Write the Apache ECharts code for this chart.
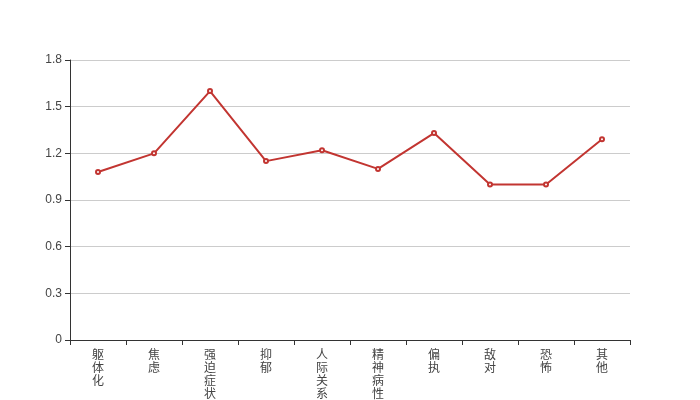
<!DOCTYPE html>
<html>
<head>
<meta charset="utf-8">
<script src="https://cdn.jsdelivr.net/npm/echarts@6/dist/echarts.min.js"></script>
<style>html,body{margin:0;padding:0;background:#fff;}#c{width:700px;height:400px;}</style>
</head>
<body>
<div id="c"></div>
<script>
var categories = ['躯体化', '焦虑', '强迫症状', '抑郁', '人际关系敏感', '精神病性', '偏执', '敌对', '恐怖', '其他'];
var values = [1.08, 1.20, 1.60, 1.15, 1.22, 1.10, 1.33, 1.00, 1.00, 1.29];
var yTicks = [0, 0.3, 0.6, 0.9, 1.2, 1.5, 1.8];

var chart = echarts.init(document.getElementById('c'), null, {renderer: 'canvas'});
chart.setOption({
  animation: false,
  grid: {left: 70, right: 70, top: 60, bottom: 60, containLabel: false, outerBoundsMode: 'none'},
  xAxis: {
    type: 'category',
    data: categories,
    boundaryGap: true,
    axisLine: {lineStyle: {color: '#333'}},
    axisTick: {show: true, alignWithLabel: false, lineStyle: {color: '#333'}},
    axisLabel: {
      interval: 0,
      color: '#444',
      fontSize: 12,
      lineHeight: 13,
      fontFamily: 'Noto Sans CJK SC',
      formatter: function (v) { return v.split('').join('\n'); }
    }
  },
  yAxis: {
    type: 'value',
    min: yTicks[0],
    max: yTicks[yTicks.length - 1],
    interval: 0.3,
    axisLine: {show: true, lineStyle: {color: '#333'}},
    axisTick: {show: true, lineStyle: {color: '#333'}},
    axisLabel: {color: '#444', fontSize: 12, fontFamily: 'sans-serif'},
    splitLine: {lineStyle: {color: '#ccc'}}
  },
  series: [{
    type: 'line',
    data: values,
    symbol: 'emptyCircle',
    symbolSize: 4,
    lineStyle: {color: '#c23531', width: 2},
    itemStyle: {color: '#c23531'}
  }]
});
</script>
</body>
</html>
